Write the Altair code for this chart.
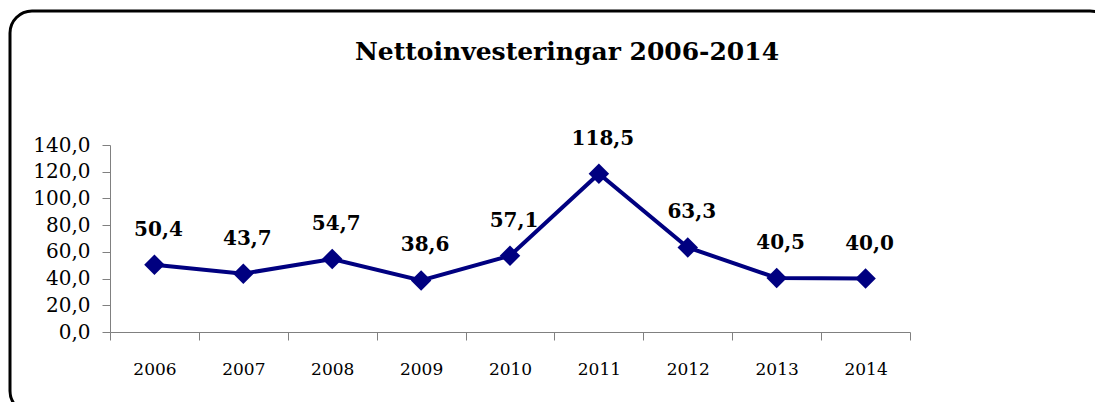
import altair as alt
import pandas as pd

years = ["2006", "2007", "2008", "2009", "2010", "2011", "2012", "2013", "2014"]
values = [50.4, 43.7, 54.7, 38.6, 57.1, 118.5, 63.3, 40.5, 40.0]
labels = ["50,4", "43,7", "54,7", "38,6", "57,1", "118,5", "63,3", "40,5", "40,0"]
title_text = "Nettoinvesteringar 2006-2014"
y_ticks = [0, 20, 40, 60, 80, 100, 120, 140]

df = pd.DataFrame({"year": years, "value": values, "label": labels})

NAVY = "#000080"
FONT = "DejaVu Serif"

x_enc = alt.X(
    "year:N",
    sort=years,
    bandPosition=0.5,
    scale=alt.Scale(type="band", paddingInner=0, paddingOuter=0),
    axis=alt.Axis(
        title=None,
        labelAngle=0,
        tickBand="extent",
        tickSize=8,
        domainColor="#808080",
        tickColor="#808080",
        labelFont=FONT,
        labelFontSize=17,
        labelColor="black",
        labelPadding=21,
        labelBaseline="top",
        grid=False,
    ),
)
y_enc = alt.Y(
    "value:Q",
    scale=alt.Scale(domain=[0, 140], nice=False),
    axis=alt.Axis(
        title=None,
        values=y_ticks,
        labelExpr="replace(format(datum.value, '.1f'), '.', ',')",
        tickSize=8,
        domainColor="#808080",
        tickColor="#808080",
        labelFont=FONT,
        labelFontSize=20,
        labelColor="black",
        labelPadding=12,
        grid=False,
    ),
)

base = alt.Chart(df)

frame = base.mark_rect(
    filled=False, stroke="black", strokeWidth=3, cornerRadius=22, clip=False
).encode(
    x=alt.value(-100), x2=alt.value(1002), y=alt.value(-134), y2=alt.value(268)
).transform_filter("datum.year == '2006'")

line = base.mark_line(color=NAVY, strokeWidth=4).encode(x=x_enc, y=y_enc)
points = base.mark_point(
    shape="diamond", filled=True, color=NAVY, size=420, opacity=1
).encode(x=x_enc, y=y_enc)
text = base.mark_text(
    font=FONT, fontSize=20, fontWeight="bold", color="black",
    baseline="alphabetic", align="center", dy=-29, dx=4
).encode(x=x_enc, y=y_enc, text="label:N")

title = alt.Chart(pd.DataFrame({"t": [title_text]})).mark_text(
    font=FONT, fontSize=25, fontWeight="bold", color="black",
    baseline="alphabetic", align="center"
).encode(x=alt.value(457), y=alt.value(-85), text="t:N")

chart = alt.layer(frame, line, points, text, title).properties(
    width=800,
    height=187,
    autosize=alt.AutoSizeParams(type="none"),
    padding={"left": 102, "top": 137, "right": 185, "bottom": 70},
    background="white",
).configure_view(stroke=None)

chart.save("out.html", embed_options={"renderer": "svg", "actions": False})
